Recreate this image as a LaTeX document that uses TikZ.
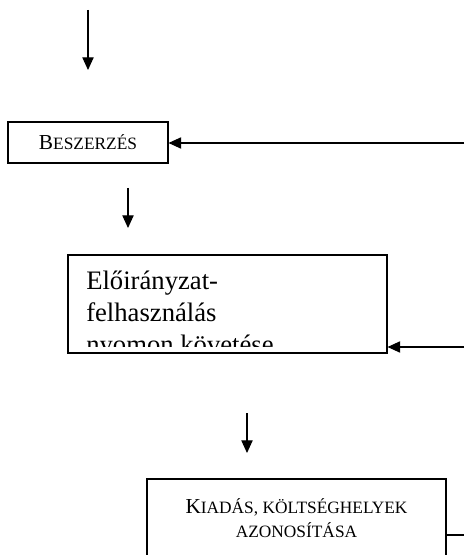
\documentclass[tikz,border=0pt]{standalone}
\usepackage{fontspec}
\setmainfont{Liberation Serif}
\usetikzlibrary{arrows.meta,positioning,calc}
\newcommand{\bigsc}{\fontsize{16}{19}\selectfont}
\newcommand{\smallsc}{\fontsize{13}{18}\selectfont}
\tikzset{
  box/.style={draw, line width=0.8pt, inner sep=0pt},
  arr/.style={-{Triangle[length=9.5pt, width=8.5pt]}, line width=0.8pt},
  ln/.style={line width=0.8pt},
}

\begin{document}
\begin{tikzpicture}[x=0.75pt, y=-0.75pt]
    \useasboundingbox (0,0) rectangle (464,555);
    % boxes
    \node[box, minimum width=120pt, minimum height=30.75pt] (besz) at (88,142.5)
      {{\bigsc B}{\smallsc ESZERZÉS}};
    \node[box, minimum width=239.25pt, minimum height=73.5pt] (elo) at (227.5,304) {};
    \begin{scope}
      \clip (68,255) rectangle (387,346);
      \node[anchor=north west, inner sep=0pt, align=left,
        font=\fontsize{20}{24}\selectfont] (elotxt) at (86,271)
        {Előirányzat-\\felhasználás\\nyomon követése};
    \end{scope}
    \node[box, minimum width=224.25pt, minimum height=75pt] (kiad) at (296.5,529) {};
    \node[align=center, inner sep=0pt, font=\smallsc] (kiadtxt) at (296.5,518)
      {{\bigsc K}IADÁS, KÖLTSÉGHELYEK\\AZONOSÍTÁSA};
    % arrows
    \coordinate (a1) at (88,10);
    \coordinate (a1e) at (88,70);
    \coordinate (a2) at (128,188);
    \coordinate (a2e) at (128,228);
    \coordinate (a3) at (247,413);
    \coordinate (a3e) at (247,453);
    \coordinate (fb1) at (464,143);
    \coordinate (fb2) at (464,347);
    \coordinate (fb3) at (464,535);
    \draw[arr] (a1) -- (a1e);
    \draw[arr] (a2) -- (a2e);
    \draw[arr] (a3) -- (a3e);
    \draw[arr] (fb1) -- (besz.east |- fb1);
    \draw[arr] (fb2) -- (elo.east |- fb2);
    \draw[ln] (kiad.east |- fb3) -- (fb3);
  \end{tikzpicture}
\end{document}
